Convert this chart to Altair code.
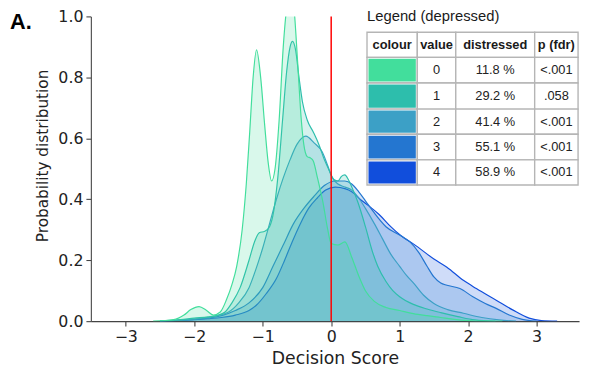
import altair as alt
import pandas as pd

# ---------------- data ----------------
SERIES = ["0", "1", "2", "3", "4"]
COLORS = ["#42DE9C", "#2DBEAC", "#3CA0C6", "#2476D0", "#114EDC"]
DISTRESSED = ["11.8 %", "29.2 %", "41.4 %", "55.1 %", "58.9 %"]
P_FDR = ["<.001", ".058", "<.001", "<.001", "<.001"]
HEADERS = ["colour", "value", "distressed", "p (fdr)"]

X0 = [-2.6, -2.3, -2.15, -2.05, -1.93, -1.82, -1.72, -1.62, -1.53, -1.45, -1.38, -1.3, -1.24, -1.19, -1.14, -1.09,
      -1.03, -0.97, -0.92, -0.87, -0.82, -0.76, -0.7, -0.65, -0.59, -0.54, -0.49, -0.44, -0.4, -0.35, -0.3, -0.26,
      -0.2, -0.12, -0.05, 0.0, 0.1, 0.2, 0.3, 0.4, 0.5, 0.63, 0.8, 1.0, 1.2, 1.4, 1.6, 1.8, 2.0, 2.2, 2.5]
Y0 = [0.0, 0.005, 0.02, 0.038, 0.048, 0.035, 0.02, 0.03, 0.07, 0.12, 0.18, 0.3, 0.45, 0.62, 0.8, 0.89,
      0.8, 0.64, 0.52, 0.46, 0.5, 0.66, 0.9, 1.03, 1.1, 1.02, 0.85, 0.67, 0.58, 0.54, 0.535, 0.525,
      0.47, 0.39, 0.3, 0.255, 0.25, 0.26, 0.21, 0.15, 0.1, 0.065, 0.045, 0.035, 0.025, 0.018, 0.012, 0.006, 0.002, 0.0, 0.0]

X1 = [-2.5, -2.2, -2.0, -1.8, -1.65, -1.55, -1.45, -1.33, -1.2, -1.12, -1.05, -0.97, -0.9, -0.84, -0.78, -0.71,
      -0.65, -0.6, -0.565, -0.52, -0.47, -0.42, -0.35, -0.26, -0.18, -0.1, -0.04, 0.04, 0.1, 0.15, 0.2, 0.25,
      0.32, 0.39, 0.5, 0.6, 0.68, 0.8, 0.9, 1.0, 1.2, 1.4, 1.6, 1.85, 2.1, 2.4]
Y1 = [0.0, 0.005, 0.01, 0.014, 0.02, 0.03, 0.06, 0.11, 0.2, 0.26, 0.29, 0.295, 0.31, 0.36, 0.47, 0.66,
      0.82, 0.9, 0.918, 0.89, 0.8, 0.72, 0.66, 0.62, 0.58, 0.53, 0.5, 0.465, 0.46, 0.475, 0.48, 0.465,
      0.43, 0.39, 0.31, 0.23, 0.18, 0.13, 0.1, 0.08, 0.055, 0.04, 0.028, 0.015, 0.004, 0.0]

X2 = [-2.5, -2.3, -2.0, -1.8, -1.5, -1.35, -1.2, -1.1, -1.0, -0.9, -0.8, -0.7, -0.6, -0.5, -0.37, -0.25,
      -0.13, -0.05, 0.01, 0.1, 0.2, 0.3, 0.4, 0.5, 0.63, 0.75, 0.87, 1.0, 1.1, 1.21, 1.35, 1.5, 1.7, 1.93,
      2.2, 2.45, 2.7]
Y2 = [0.0, 0.002, 0.007, 0.012, 0.03, 0.06, 0.11, 0.17, 0.24, 0.32, 0.4, 0.47, 0.53, 0.58, 0.607, 0.585,
      0.555, 0.51, 0.473, 0.45, 0.44, 0.43, 0.405, 0.37, 0.32, 0.27, 0.22, 0.18, 0.15, 0.123, 0.085, 0.058,
      0.038, 0.026, 0.012, 0.004, 0.0]

X3 = [-2.5, -2.3, -2.0, -1.8, -1.6, -1.4, -1.2, -1.0, -0.85, -0.7, -0.55, -0.4, -0.25, -0.1, 0.06, 0.2,
      0.3, 0.4, 0.5, 0.63, 0.8, 1.02, 1.15, 1.28, 1.4, 1.5, 1.6, 1.69, 1.88, 2.07, 2.25, 2.41, 2.6, 2.79, 3.0]
Y3 = [0.0, 0.002, 0.006, 0.01, 0.018, 0.035, 0.06, 0.11, 0.18, 0.25, 0.32, 0.37, 0.41, 0.445, 0.46, 0.46,
      0.45, 0.425, 0.395, 0.355, 0.31, 0.28, 0.26, 0.225, 0.18, 0.145, 0.125, 0.118, 0.107, 0.08, 0.058,
      0.042, 0.02, 0.006, 0.0]

X4 = [-2.5, -2.3, -2.0, -1.8, -1.6, -1.4, -1.2, -1.09, -0.95, -0.8, -0.68, -0.57, -0.45, -0.33, -0.2, -0.08,
      0.06, 0.2, 0.3, 0.45, 0.54, 0.7, 0.87, 1.02, 1.21, 1.5, 1.69, 1.93, 2.12, 2.41, 2.65, 2.89, 3.07, 3.3]
Y4 = [0.0, 0.002, 0.005, 0.008, 0.012, 0.02, 0.035, 0.053, 0.09, 0.14, 0.2, 0.26, 0.32, 0.37, 0.405, 0.43,
      0.44, 0.435, 0.425, 0.395, 0.38, 0.35, 0.31, 0.28, 0.252, 0.204, 0.177, 0.134, 0.107, 0.069, 0.037,
      0.01, 0.002, 0.0]

VLINE = [0.0]

# ---------------- layout constants (pixels in plot area) ----------------
W, H = 495, 309
COL_EDGES = [280, 331, 370, 450, 494]
ROW_EDGES = [16, 41.5, 67.5, 94, 119.5, 145.5, 171]

XS = [X0, X1, X2, X3, X4]
YS = [Y0, Y1, Y2, Y3, Y4]

color_scale = alt.Scale(domain=SERIES, range=COLORS)
xscale = alt.Scale(domain=[-3.51, 3.62], nice=False, zero=False)
yscale = alt.Scale(domain=[0, 1], nice=False)
xaxis = alt.Axis(values=[-3, -2, -1, 0, 1, 2, 3], format="d", title="Decision Score",
                 titlePadding=5, titleFontSize=17.5)
yaxis = alt.Axis(values=[0, 0.2, 0.4, 0.6, 0.8, 1.0], format=".1f",
                 title="Probability distribution", titlePadding=8, titleFontSize=15.5, titleY=141)

# seaborn draws hue levels in reverse order: last level first, first level on top
series_layers = []
for s, xs, ys in reversed(list(zip(SERIES, XS, YS))):
    d = pd.DataFrame({"x": xs, "y": ys, "series": s})
    base = alt.Chart(d)
    area = base.mark_area(clip=True, fillOpacity=0.2, interpolate="monotone").encode(
        x=alt.X("x:Q", scale=xscale, axis=xaxis),
        y=alt.Y("y:Q", stack=None, scale=yscale, axis=yaxis),
        color=alt.Color("series:N", scale=color_scale, legend=None))
    line = base.mark_line(clip=True, strokeWidth=1.2, interpolate="monotone").encode(
        x="x:Q", y=alt.Y("y:Q", stack=None),
        color=alt.Color("series:N", scale=color_scale, legend=None))
    series_layers += [area, line]

rule = alt.Chart(pd.DataFrame({"x": VLINE})).mark_rule(color="#ff0000", strokeWidth=1.5).encode(
    x="x:Q", y=alt.value(0), y2=alt.value(H))

main = alt.layer(*series_layers, rule)

# ---------------- table legend ----------------
cells = []
for r in range(6):
    for c in range(4):
        cells.append({"x0": COL_EDGES[c], "x1": COL_EDGES[c + 1],
                      "y0": ROW_EDGES[r], "y1": ROW_EDGES[r + 1]})
cells_df = pd.DataFrame(cells)
tx = alt.Scale(domain=[0, W], nice=False, zero=False)
ty = alt.Scale(domain=[0, H], nice=False, zero=False, reverse=True)

cell_layer = alt.Chart(cells_df).mark_rect(fill="white", stroke="#b5b5b5", strokeWidth=1.4).encode(
    x=alt.X("x0:Q", scale=tx, axis=None), x2="x1:Q",
    y=alt.Y("y0:Q", scale=ty, axis=None), y2="y1:Q")

sw = pd.DataFrame({"series": SERIES,
                   "x0": [COL_EDGES[0] + 1.5] * 5, "x1": [COL_EDGES[1] - 1.5] * 5,
                   "y0": [ROW_EDGES[i + 1] + 1.5 for i in range(5)],
                   "y1": [ROW_EDGES[i + 2] - 1.5 for i in range(5)]})
swatch_layer = alt.Chart(sw).mark_rect().encode(
    x=alt.X("x0:Q", scale=tx, axis=None), x2="x1:Q",
    y=alt.Y("y0:Q", scale=ty, axis=None), y2="y1:Q",
    color=alt.Color("series:N", scale=color_scale, legend=None))

texts = []
for c, h in enumerate(HEADERS):
    texts.append({"tx": (COL_EDGES[c] + COL_EDGES[c + 1]) / 2, "ty": (ROW_EDGES[0] + ROW_EDGES[1]) / 2,
                  "t": h, "bold": True})
for i in range(5):
    cy = (ROW_EDGES[i + 1] + ROW_EDGES[i + 2]) / 2
    for c, t in zip([1, 2, 3], [SERIES[i], DISTRESSED[i], P_FDR[i]]):
        texts.append({"tx": (COL_EDGES[c] + COL_EDGES[c + 1]) / 2, "ty": cy, "t": t, "bold": False})
tdf = pd.DataFrame(texts)

head_text = alt.Chart(tdf[tdf.bold]).mark_text(font="Liberation Sans", fontSize=13, fontWeight="bold",
                                               color="#1a1a1a", baseline="middle", align="center").encode(
    x=alt.X("tx:Q", scale=tx, axis=None), y=alt.Y("ty:Q", scale=ty, axis=None), text="t:N")
body_text = alt.Chart(tdf[~tdf.bold]).mark_text(font="Liberation Sans", fontSize=13,
                                                color="#222222", baseline="middle", align="center").encode(
    x=alt.X("tx:Q", scale=tx, axis=None), y=alt.Y("ty:Q", scale=ty, axis=None), text="t:N")

title_text = alt.Chart(pd.DataFrame({"t": ["Legend (depressed)"]})).mark_text(
    font="Liberation Sans", fontSize=15, color="#1a1a1a", align="left", baseline="middle").encode(
    x=alt.value(COL_EDGES[0]), y=alt.value(0), text="t:N")
panel_text = alt.Chart(pd.DataFrame({"t": ["A."]})).mark_text(
    font="Liberation Sans", fontSize=22, fontWeight="bold", color="#000000", align="left",
    baseline="alphabetic").encode(x=alt.value(-82), y=alt.value(13), text="t:N")

table = alt.layer(cell_layer, swatch_layer, head_text, body_text, title_text, panel_text)

chart = alt.layer(main, table).resolve_scale(x="independent", y="independent").properties(
    width=W, height=H,
    autosize=alt.AutoSizeParams(type="none"),
    padding={"left": 84, "top": 6, "right": 4, "bottom": 48},
).configure_view(stroke=None).configure_axis(
    grid=False, labelFont="DejaVu Sans", titleFont="DejaVu Sans", labelFontSize=16,
    titleFontWeight="normal", labelColor="#222222", titleColor="#222222", domainColor="#444444",
    tickColor="#444444", tickSize=5, labelPadding=3, domainWidth=1.1, tickWidth=1.1)

chart.save("out.html", embed_options={"renderer": "svg", "actions": False})
